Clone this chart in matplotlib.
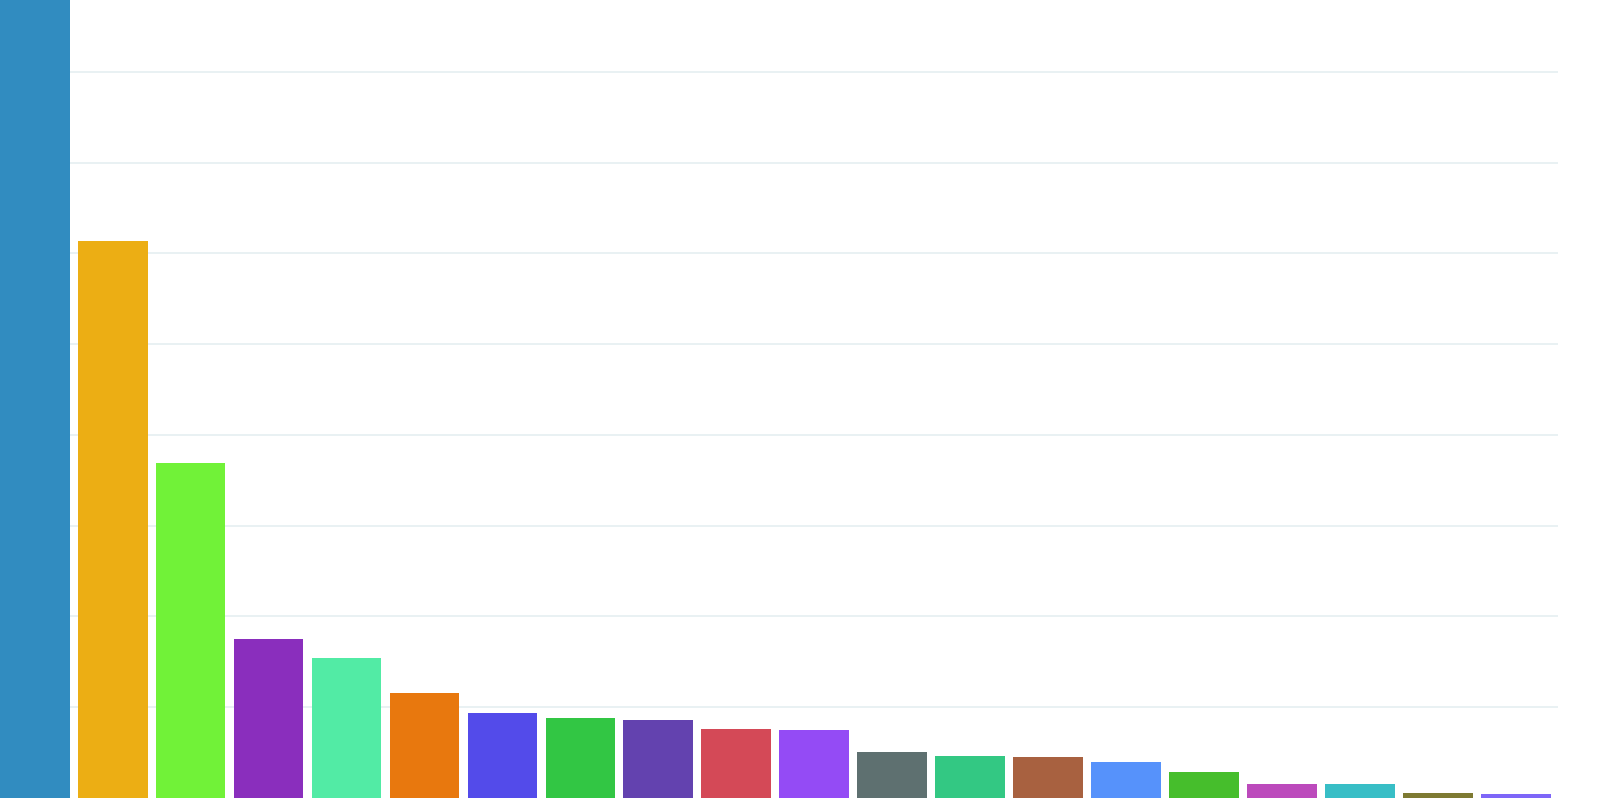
import numpy as np
import matplotlib.pyplot as plt

# bar heights, in gridline units (one gridline = 1.0)
values = [8.79, 6.13, 3.69, 1.75, 1.54, 1.16, 0.94, 0.88, 0.86, 0.76,
          0.745, 0.51, 0.46, 0.45, 0.40, 0.286, 0.157, 0.154, 0.058, 0.041]
colors = ['#318CC0', '#ECAE14', '#71F238', '#8A2EBD', '#52EBA5', '#E8780E',
          '#534BEA', '#32C644', '#6342AF', '#D44957', '#944BF5', '#5E7070',
          '#33C883', '#A86140', '#5692FB', '#46BE2C', '#BC4ABC', '#38BEC6',
          '#7E7A32', '#7E66F8']
grid_levels = [1, 2, 3, 4, 5, 6, 7, 8]

fig = plt.figure(figsize=(16, 7.99), dpi=100)
ax = fig.add_axes([0, 0, 1558 / 1600, 1])

x = np.arange(len(values))
ax.bar(x, values, width=0.895, color=colors, zorder=2)

ax.set_yticks(grid_levels)
ax.yaxis.grid(True, color='#E7F0F2', linewidth=1.3, zorder=0)
ax.set_xlim(-0.445, 19.54)
ax.set_ylim(-0.011, 8.79)

for s in ax.spines.values():
    s.set_visible(False)
ax.tick_params(left=False, bottom=False, labelleft=False, labelbottom=False)

fig.savefig('out.png', dpi=100)
